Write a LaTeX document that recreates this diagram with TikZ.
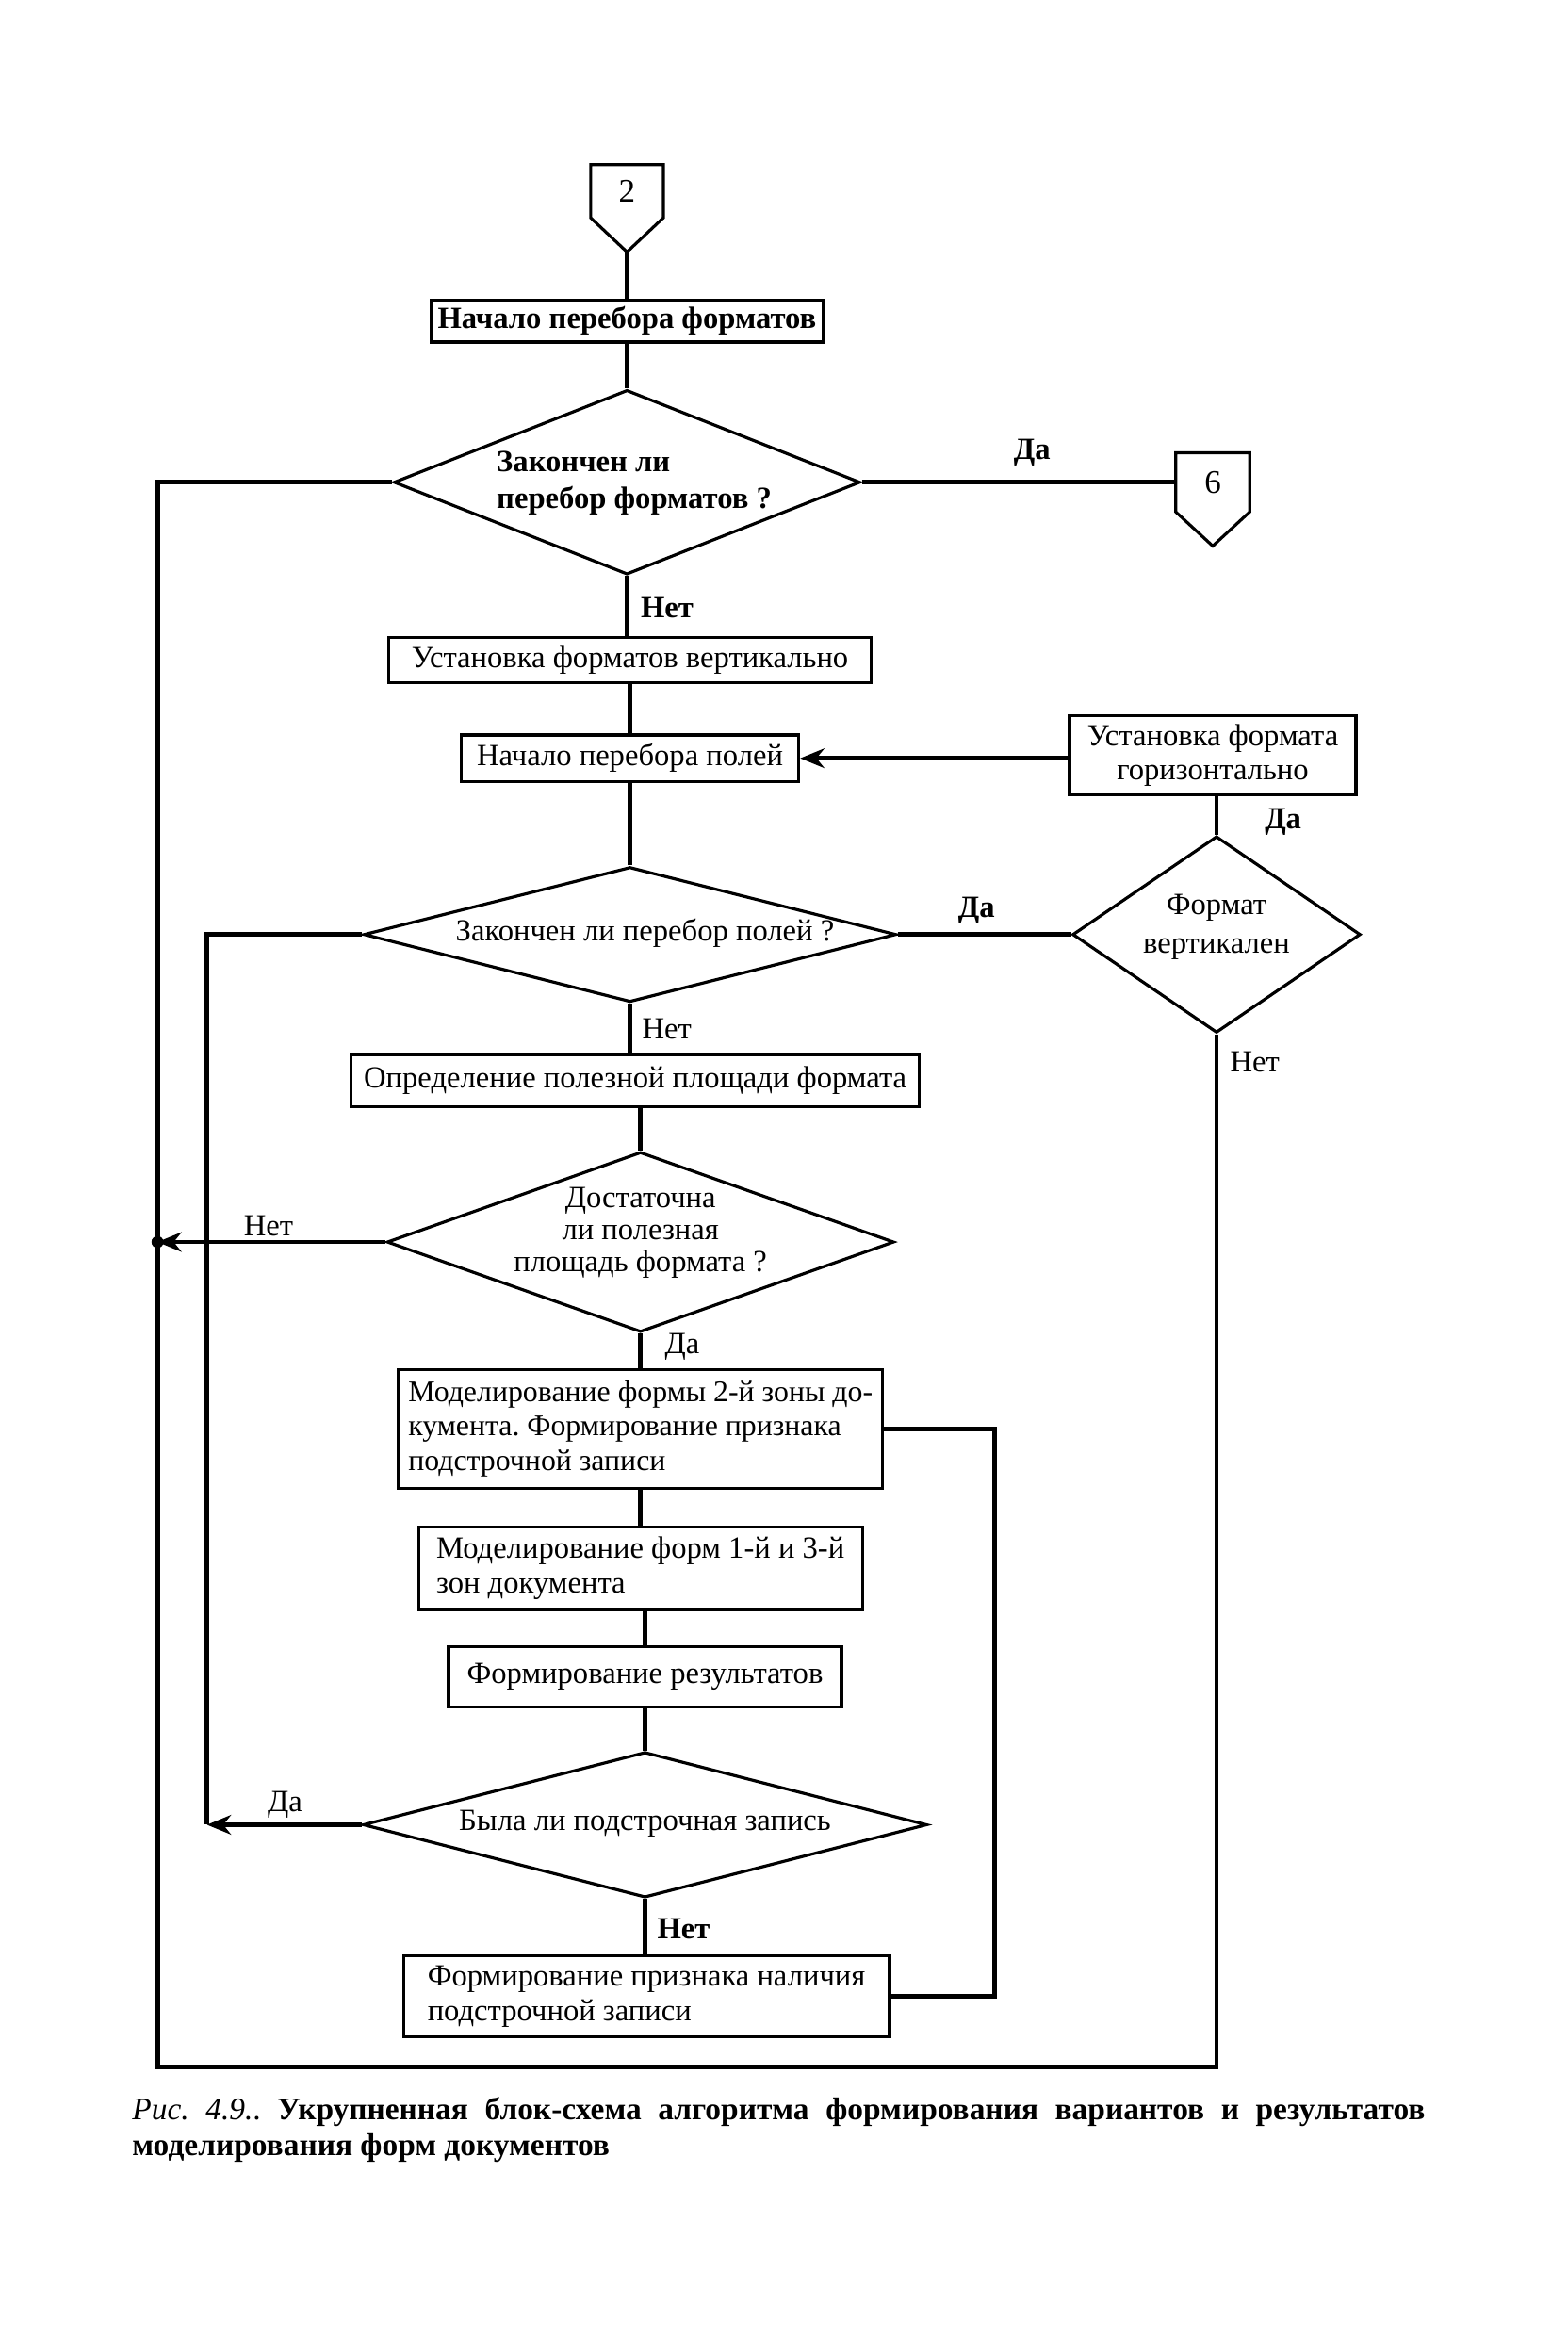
\documentclass[tikz,border=0pt]{standalone}
\usepackage{fontspec}
\setmainfont{Liberation Serif}
\usetikzlibrary{arrows.meta,shapes.geometric,calc}
\frenchspacing
\begin{document}
\begin{tikzpicture}[x=1pt,y=-1pt,
  every node/.style={font=\fontsize{20.5}{23}\selectfont},
  box/.style={draw, line width=2pt, rectangle, inner ysep=0pt, inner xsep=0pt, align=center},
  lbox/.style={draw, line width=2pt, rectangle, inner ysep=0pt, inner xsep=0pt, align=left},
  dia/.style={draw, line width=2pt, diamond, inner sep=0pt},
  flow/.style={line width=3pt},
  arr/.style={line width=3pt, -{Stealth[length=16pt,width=13pt]}},
  conn/.style={inner sep=0pt, font=\fontsize{22}{24}\selectfont},
  lbl/.style={inner sep=0pt},
  bl/.style={inner sep=0pt, font=\bfseries\fontsize{20.5}{23}\selectfont},
  dtxt/.style={inner sep=0pt, align=center}
]
\useasboundingbox (0,0) rectangle (1045,1568);
\fill[white] (0,0) rectangle (1045,1568);

% off-page connectors
\node[conn, minimum width=48pt, minimum height=35pt] (c2) at (418,127.5) {2};
\coordinate (c2tip) at (418,168);
\draw[line width=2pt] (c2.north west) -- (c2.north east) -- (c2.south east) -- (c2tip) -- (c2.south west) -- cycle;
\node[conn, minimum width=49pt, minimum height=39pt] (c6) at (808.5,321.5) {6};
\coordinate (c6tip) at (808.5,364);
\draw[line width=2pt] (c6.north west) -- (c6.north east) -- (c6.south east) -- (c6tip) -- (c6.south west) -- cycle;

% boxes
\node[box, minimum width=261pt, minimum height=28pt] (B1) at (418,214) {\bfseries Начало перебора форматов};
\node[box, minimum width=322pt, minimum height=30pt] (B2) at (420,440) {Установка форматов вертикально};
\node[box, minimum width=225pt, minimum height=31pt] (B3) at (420,505.5) {Начало перебора полей};
\node[box, minimum width=191pt, minimum height=53pt] (B4) at (808.5,503.5) {Установка формата\\горизонтально};
\node[box, minimum width=379pt, minimum height=35pt] (B5) at (423.5,720.5) {Определение полезной площади формата};
\node[lbox, minimum width=323pt, minimum height=79pt, font=\fontsize{20}{23}\selectfont] (B6) at (427,952.5) {Моделирование формы 2-й зоны до-\\кумента. Формирование признака\\подстрочной записи};
\node[lbox, minimum width=296pt, minimum height=55pt] (B7) at (427,1045.5) {Моделирование форм 1-й и 3-й\\зон документа};
\node[box, minimum width=262pt, minimum height=40pt] (B8) at (430,1118) {Формирование результатов};
\node[lbox, minimum width=324pt, minimum height=54pt] (B9) at (431,1331) {Формирование признака наличия\\подстрочной записи};

% decisions
\node[dia, minimum width=311pt, minimum height=123pt] (D1) at (418,321.5) {};
\node[dtxt, anchor=west, align=left, font=\bfseries\fontsize{20.5}{25}\selectfont] (D1t) at (331,322) {Закончен ли\\перебор форматов ?};
\node[dia, minimum width=192pt, minimum height=131pt] (D2) at (811,623) {};
\node[dtxt, font=\fontsize{20.5}{26}\selectfont] (D2t) at (811,618) {Формат\\вертикален};
\node[dia, minimum width=355pt, minimum height=90pt] (D3) at (420,623) {};
\node[dtxt] (D3t) at (430,622) {Закончен ли перебор полей ?};
\node[dia, minimum width=338pt, minimum height=120pt] (D4) at (427,828) {};
\node[dtxt, font=\fontsize{20.5}{21.5}\selectfont] (D4t) at (427,822) {Достаточна\\ли полезная\\площадь формата ?};
\node[dia, minimum width=376pt, minimum height=97pt] (D5) at (430,1216.5) {};
\node[dtxt] (D5t) at (430,1216) {Была ли подстрочная запись};

% labels
\node[bl] (LDa1) at (688,302) {Да};
\node[bl, anchor=west] (LNet1) at (427,405) {Нет};
\node[bl, anchor=west] (LDa2) at (843,548) {Да};
\node[bl] (LDa3) at (651,607) {Да};
\node[lbl, anchor=west] (LNet2) at (820,708) {Нет};
\node[lbl, anchor=west] (LNet3) at (428,686) {Нет};
\node[lbl] (LNet4) at (179,817) {Нет};
\node[lbl, anchor=west] (LDa4) at (443,898) {Да};
\node[lbl] (LDa5) at (190,1203) {Да};
\node[bl, anchor=west] (LNet5) at (438,1286) {Нет};

% connectors
\coordinate (BL) at (105,1378);
\coordinate (L2) at (138,1216.5);
\coordinate (R2) at (663,1331);
\draw[flow] (c2tip) -- (B1.north);
\draw[flow] (B1.south) -- (D1.north);
\draw[flow] (D1.east) -- (c6.west);
\draw[flow] (D1.south) -- (D1.south |- B2.north);
\draw[flow] (B2.south) -- (B3.north);
\draw[arr] (B4.west |- B3.east) -- (B3.east);
\draw[flow] (B4.south -| D2.north) -- (D2.north);
\draw[flow] (B3.south) -- (D3.north);
\draw[flow] (D3.east) -- (D2.west);
\draw[flow] (D2.south) |- (BL) |- (D1.west);
\draw[flow] (D3.south) -- (D3.south |- B5.north);
\draw[flow] (D4.north |- B5.south) -- (D4.north);
\draw[arr] (D4.west) -- (D4.west -| BL);
\fill (D4.west -| BL) circle (4pt);
\draw[flow] (D3.west) -| (L2);
\draw[arr] (D5.west) -- (L2);
\draw[flow] (D4.south) -- (B6.north);
\draw[flow] (B6.south) -- (B7.north);
\draw[flow] (B7.south -| B8.north) -- (B8.north);
\draw[flow] (B8.south) -- (D5.north);
\draw[flow] (D5.south) -- (D5.south |- B9.north);
\draw[flow] (B9.east) -- (R2) |- (B6.east);

% caption
\node[anchor=west, inner sep=0pt, font=\fontsize{21}{24}\selectfont] (cap1) at (88,1408) {\hbox to 862pt{\textit{Рис. 4.9.}. \textbf{Укрупненная  блок-схема алгоритма формирования вариантов и результатов}}};
\node[anchor=west, inner sep=0pt, font=\bfseries\fontsize{21}{24}\selectfont] (cap2) at (88,1432) {моделирования форм документов};
\end{tikzpicture}
\end{document}
